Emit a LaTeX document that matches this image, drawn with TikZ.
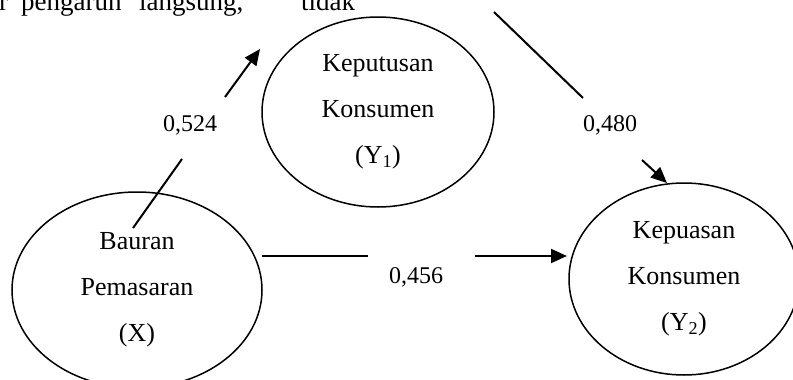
\documentclass[tikz,border=0pt]{standalone}
\usepackage{fontspec}
\setmainfont{Liberation Serif}
\usetikzlibrary{shapes.geometric,arrows.meta}
\begin{document}
\begin{tikzpicture}[x=1pt,y=-1pt,
  oval/.style={draw, ellipse, line width=1.5pt, inner sep=0pt, align=center,
    font=\fontsize{26pt}{46pt}\selectfont},
  conn/.style={line width=2pt},
  arr/.style={conn, -{Triangle[length=16pt,width=14pt]}},
  coef/.style={font=\fontsize{24pt}{28pt}\selectfont, inner sep=0pt},
  topword/.style={anchor=base west, inner sep=0pt, font=\fontsize{27pt}{30pt}\selectfont}]
\useasboundingbox (0,0) rectangle (793,380);
\clip (0,0) rectangle (793,380);
% cut-off line of running text
\node[topword] (w1) at (-1,10) {r};
\node[topword] (w2) at (21,10) {pengaruh};
\node[topword] (w3) at (139,10) {langsung,};
\node[topword] (w4) at (301,10) {tidak};
% variables
\node[oval, minimum width=250pt, minimum height=196pt] (X) at (137,290) {Bauran\\Pemasaran\\(X)};
\node[oval, minimum width=232pt, minimum height=190pt] (Y1) at (378,112) {Keputusan\\Konsumen\\(Y\textsubscript{1})};
\node[oval, minimum width=230pt, minimum height=192pt] (Y2) at (684,279) {Kepuasan\\Konsumen\\(Y\textsubscript{2})};
% coefficients
\node[coef] (k1) at (190,125) {0,524};
\node[coef] (k2) at (610,125) {0,480};
\node[coef] (k3) at (416,277) {0,456};
% segment ends
\coordinate (a1) at (133,228);
\coordinate (a2) at (182,159);
\coordinate (a3) at (225,97);
\coordinate (a4) at (260,49);
\coordinate (b1) at (494,12);
\coordinate (b2) at (583,98);
\coordinate (b3) at (642,160);
\coordinate (b4) at (667,183);
\coordinate (c1) at (262,256);
\coordinate (c2) at (368,256);
\coordinate (c3) at (475,256);
\coordinate (c4) at (567,256);
% connectors
\draw[conn] (a1) -- (a2);
\draw[arr] (a3) -- (a4);
\draw[conn] (b1) -- (b2);
\draw[arr] (b3) -- (b4);
\draw[conn] (c1) -- (c2);
\draw[arr] (c3) -- (c4);
\end{tikzpicture}
\end{document}
